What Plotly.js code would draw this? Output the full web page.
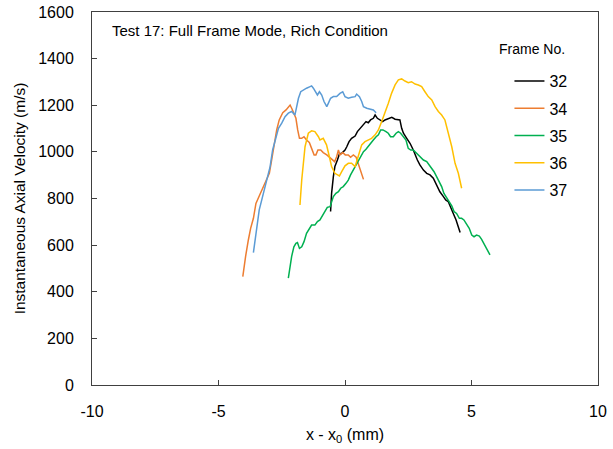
<!DOCTYPE html>
<html>
<head>
<meta charset="utf-8">
<script src="https://cdn.plot.ly/plotly-3.0.1.min.js"></script>
<style>html,body{margin:0;padding:0;background:#fff;}</style>
</head>
<body>
<div id="chart" style="width:613px;height:449px;"></div>
<script>
const frameNames = ["32", "34", "35", "36", "37"];

const x32 = [-0.57,-0.53,-0.46,-0.40,-0.30,-0.22,-0.13,0.00,0.07,0.16,0.26,0.40,0.49,0.59,0.72,0.83,0.92,1.01,1.12,1.19,1.28,1.38,1.49,1.58,1.71,1.85,1.98,2.11,2.17,2.24,2.31,2.44,2.57,2.70,2.77,2.86,2.96,3.10,3.23,3.36,3.49,3.56,3.65,3.75,3.89,3.98,4.08,4.18,4.28,4.39,4.48,4.55];
const y32 = [744,822,894,937,965,991,994,1008,1022,1044,1058,1068,1087,1101,1115,1130,1125,1137,1144,1158,1144,1137,1130,1137,1144,1148,1140,1140,1137,1101,1080,1058,1037,1008,987,965,944,922,908,901,887,872,851,829,808,794,787,765,736,708,679,654];

const x34 = [-4.04,-3.99,-3.93,-3.82,-3.73,-3.62,-3.52,-3.39,-3.25,-3.12,-2.99,-2.90,-2.81,-2.70,-2.60,-2.46,-2.33,-2.24,-2.17,-2.09,-2.02,-1.94,-1.87,-1.80,-1.71,-1.62,-1.52,-1.41,-1.32,-1.22,-1.15,-1.07,-0.96,-0.86,-0.72,-0.62,-0.51,-0.41,-0.33,-0.26,-0.20,-0.09,0.01,0.13,0.22,0.33,0.44,0.53,0.62,0.73];
const y34 = [465,508,551,622,672,715,779,811,844,872,908,965,1022,1094,1137,1168,1180,1194,1201,1183,1168,1144,1094,1058,1058,1065,1051,1040,1015,987,987,1008,1008,997,987,977,965,958,979,1008,987,997,987,987,977,987,977,944,915,882];

const x35 = [-2.24,-2.20,-2.11,-2.02,-1.94,-1.88,-1.80,-1.71,-1.62,-1.52,-1.41,-1.32,-1.19,-1.09,-0.99,-0.88,-0.79,-0.70,-0.59,-0.53,-0.46,-0.36,-0.26,-0.17,-0.07,0.04,0.13,0.22,0.33,0.43,0.53,0.62,0.73,0.83,0.92,1.01,1.12,1.23,1.32,1.41,1.50,1.62,1.71,1.80,1.91,2.02,2.11,2.20,2.31,2.41,2.50,2.60,2.70,2.83,2.96,3.10,3.23,3.33,3.43,3.52,3.62,3.73,3.82,3.91,4.02,4.12,4.22,4.31,4.41,4.52,4.61,4.70,4.81,4.91,5.01,5.10,5.20,5.31,5.40,5.49,5.60,5.73];
const y35 = [458,493,551,593,608,611,586,593,615,651,672,686,686,701,708,729,751,762,765,787,808,822,829,844,851,865,879,901,922,944,958,980,1001,1011,1022,1037,1051,1065,1073,1094,1094,1087,1080,1065,1065,1080,1087,1080,1065,1051,1015,1008,1008,994,980,965,958,944,929,915,894,872,851,822,801,787,768,744,736,715,715,708,686,672,643,636,643,639,625,608,586,558];

const x36 = [-1.78,-1.71,-1.58,-1.45,-1.32,-1.19,-1.05,-0.99,-0.86,-0.73,-0.62,-0.53,-0.40,-0.22,-0.13,0.00,0.13,0.26,0.40,0.50,0.57,0.66,0.79,0.92,1.05,1.19,1.32,1.45,1.58,1.71,1.84,1.98,2.11,2.24,2.37,2.50,2.63,2.77,2.90,3.03,3.16,3.29,3.43,3.56,3.69,3.82,3.95,4.08,4.22,4.35,4.48,4.61];
const y36 = [772,880,1022,1080,1090,1087,1065,1051,1058,1030,980,937,908,897,915,940,951,951,937,972,1001,1030,1044,1051,1058,1073,1094,1130,1166,1208,1251,1287,1309,1313,1304,1297,1301,1291,1287,1280,1258,1237,1223,1194,1173,1158,1137,1080,1022,951,908,844];

const x37 = [-3.62,-3.56,-3.49,-3.39,-3.29,-3.16,-3.07,-2.96,-2.86,-2.77,-2.63,-2.50,-2.37,-2.24,-2.11,-1.98,-1.91,-1.84,-1.75,-1.65,-1.52,-1.38,-1.32,-1.25,-1.15,-1.09,-1.01,-0.92,-0.83,-0.72,-0.66,-0.57,-0.46,-0.33,-0.20,-0.09,0.00,0.13,0.26,0.40,0.46,0.57,0.66,0.73,0.86,0.99,1.12,1.23];
const y37 = [568,622,679,751,794,851,894,937,1008,1044,1101,1123,1151,1166,1173,1158,1194,1230,1258,1266,1273,1280,1283,1273,1251,1244,1258,1244,1216,1194,1208,1230,1237,1237,1251,1258,1237,1230,1234,1237,1248,1237,1216,1194,1187,1183,1180,1168];

const xTicks = [-10, -5, 0, 5, 10];
const yTicks = [0, 200, 400, 600, 800, 1000, 1200, 1400, 1600];

const seriesX = [x32, x34, x35, x36, x37];
const seriesY = [y32, y34, y35, y36, y37];
const colors = ["#000000", "#ED7D31", "#00B050", "#FFC000", "#5B9BD5"];

const FONT = "Liberation Sans, Arial, sans-serif";

const traces = frameNames.map((n, i) => ({
  x: seriesX[i], y: seriesY[i], name: n, type: "scatter", mode: "lines",
  line: {color: colors[i], width: 1.5}, legendgroup: "g" + n
}));

const layout = {
  width: 613, height: 449,
  margin: {l: 92, r: 15, t: 12, b: 64},
  paper_bgcolor: "#fff", plot_bgcolor: "#fff",
  font: {family: FONT, size: 14, color: "#000"},
  showlegend: true,
  legend: {x: 0.825, y: 0.86, xanchor: "left", yanchor: "top", traceorder: "grouped", tracegroupgap: 3.4,
           font: {family: FONT, size: 16, color: "#000"}, bgcolor: "rgba(0,0,0,0)"},
  xaxis: {range: [-10, 10], tickvals: xTicks, ticktext: xTicks.map(String), showgrid: false, zeroline: false,
          showline: true, linecolor: "#404040", linewidth: 1, mirror: true,
          ticks: "inside", ticklen: 5, tickcolor: "#404040", tickfont: {size: 16}, ticklabelstandoff: 12,
          title: {text: "x - x<sub>0</sub> (mm)", font: {size: 16}, standoff: 9}},
  yaxis: {range: [0, 1600], tickvals: yTicks, ticktext: yTicks.map(String), showgrid: false, zeroline: false,
          showline: true, linecolor: "#404040", linewidth: 1, mirror: true,
          ticks: "inside", ticklen: 5, tickcolor: "#404040", tickfont: {size: 16}, ticklabelstandoff: 14,
          title: {text: "Instantaneous Axial Velocity (m/s)", font: {size: 15.5}, standoff: 8}},
  annotations: [
    {text: "Test 17: Full Frame Mode, Rich Condition", xref: "paper", yref: "paper", x: 0.035, y: 0.95,
     xanchor: "left", yanchor: "middle", showarrow: false, font: {size: 15}},
    {text: "Frame No.", xref: "paper", yref: "paper", x: 0.80, y: 0.9, xanchor: "left", yanchor: "middle",
     showarrow: false, font: {size: 14}}
  ]
};

Plotly.newPlot("chart", traces, layout, {displayModeBar: false, staticPlot: true});
</script>
</body>
</html>
